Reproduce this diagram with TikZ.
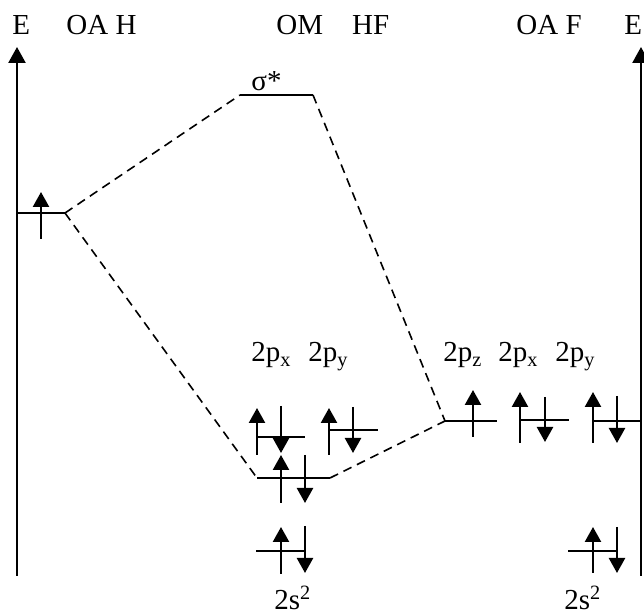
\documentclass[tikz,border=0pt]{standalone}
\usepackage{fontspec}
\setmainfont{Liberation Serif}
\usetikzlibrary{arrows.meta}
\tikzset{
  energyaxis/.style={line width=1.2pt, -{Triangle[length=8pt,width=8.5pt]}},
  level/.style={line width=1.2pt},
  spin/.style={line width=1.2pt, -{Triangle[length=7.5pt,width=8pt]}},
  corr/.style={line width=0.8pt, dash pattern=on 4.5pt off 3pt},
  txt/.style={font=\fontsize{14.5}{17}\selectfont, inner sep=0pt, anchor=base west},
}
\begin{document}
\begin{tikzpicture}[x=0.5pt, y=-0.5pt]
\useasboundingbox (0,0) rectangle (644,614);
% energy axes
\draw[energyaxis] (17,576) -- (17,47);
\draw[energyaxis] (641,576) -- (641,47);
% headings
\node[txt] (eleft) at (12,35) {E};
\node[txt] (oah) at (66,35) {OA H};
\node[txt] (omhf) at (276,35) {OM\quad HF};
\node[txt] (oaf) at (516,35) {OA F};
\node[txt] (eright) at (624,35) {E};
% H 1s
\draw[level] (17,213) -- (65,213);
\coordinate (h1s) at (65,213);
\draw[spin] (41,239) -- (41,192);
% sigma*
\draw[level] (240,95) -- (313,95);
\coordinate (sstarl) at (240,95);
\coordinate (sstarr) at (313,95);
\node[txt] (sstar) at (251,91) {σ*};
% sigma
\draw[level] (257,478) -- (330,478);
\coordinate (sigl) at (257,478);
\coordinate (sigr) at (330,478);
\draw[spin] (281,503) -- (281,455);
\draw[spin] (305,455) -- (305,503);
% HF 2px, 2py
\node[txt] (hfpx) at (251,362) {2p\textsubscript{x}};
\node[txt] (hfpy) at (308,362) {2p\textsubscript{y}};
\draw[level] (257,437) -- (305,437);
\draw[spin] (257,455) -- (257,408);
\draw[spin] (281,406) -- (281,453);
\draw[level] (329,430) -- (378,430);
\draw[spin] (329,455) -- (329,408);
\draw[spin] (353,407) -- (353,453);
% HF 2s
\draw[level] (256,551) -- (305,551);
\draw[spin] (281,574) -- (281,527);
\draw[spin] (305,526) -- (305,573);
\node[txt] (hfs) at (274,610) {2s\textsuperscript{2}};
% F 2p
\node[txt] (fpz) at (443,362) {2p\textsubscript{z}};
\node[txt] (fpx) at (498,362) {2p\textsubscript{x}};
\node[txt] (fpy) at (555,362) {2p\textsubscript{y}};
\draw[level] (445,421) -- (497,421);
\coordinate (f2pz) at (445,421);
\draw[spin] (473,437) -- (473,390);
\draw[level] (520,420) -- (569,420);
\draw[spin] (520,443) -- (520,392);
\draw[spin] (545,397) -- (545,442);
\draw[level] (593,421) -- (641,421);
\draw[spin] (593,443) -- (593,392);
\draw[spin] (617,396) -- (617,443);
% F 2s
\draw[level] (568,551) -- (617,551);
\draw[spin] (593,573) -- (593,527);
\draw[spin] (617,527) -- (617,573);
\node[txt] (fs) at (564,610) {2s\textsuperscript{2}};
% correlation lines
\draw[corr] (h1s) -- (sstarl);
\draw[corr] (h1s) -- (sigl);
\draw[corr] (sstarr) -- (f2pz);
\draw[corr] (sigr) -- (f2pz);
\end{tikzpicture}
\end{document}
